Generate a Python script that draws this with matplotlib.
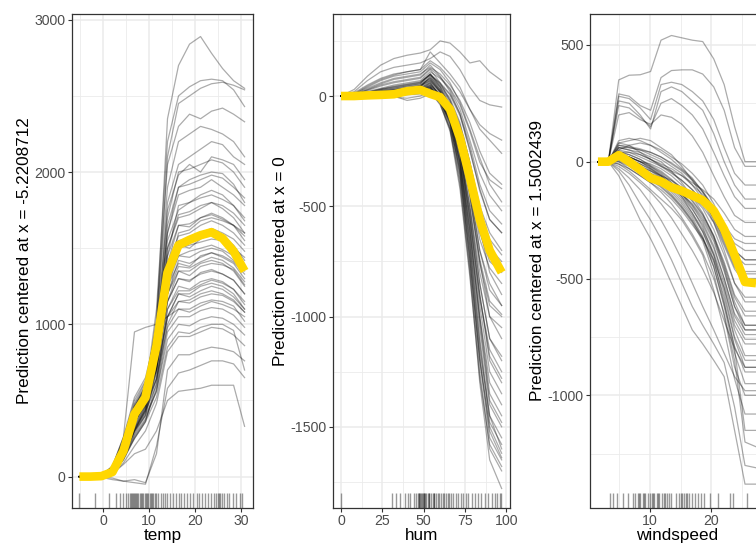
import matplotlib
matplotlib.use("Agg")
import matplotlib.pyplot as plt
import numpy as np

plt.rcParams['font.family'] = ['Liberation Sans', 'DejaVu Sans']
plt.rcParams['axes.unicode_minus'] = False

# ---- temp panel ----
temp_grid = [-5.2, -2.8, -0.4, 2.0, 4.4, 6.8, 9.2, 11.6, 14.0, 16.4, 18.8, 21.2, 23.6, 26.0, 28.4, 30.8]
temp_pdp = [0, 0, 3, 30, 170, 410, 520, 860, 1340, 1520, 1555, 1585, 1605, 1565, 1480, 1350]
temp_ice = [
    [0, 0, 5, 40, 160, 350, 500, 1000, 2350, 2700, 2840, 2890, 2780, 2680, 2600, 2550],
    [0, 0, 8, 50, 200, 420, 560, 1100, 2200, 2500, 2560, 2600, 2610, 2600, 2540, 2430],
    [0, 0, 3, 30, 140, 300, 450, 950, 2100, 2450, 2500, 2550, 2580, 2590, 2570, 2540],
    [0, 0, 6, 45, 180, 380, 520, 1050, 2050, 2300, 2380, 2350, 2400, 2420, 2380, 2330],
    [0, 0, 10, 60, 220, 450, 600, 1000, 1900, 2200, 2250, 2300, 2280, 2250, 2200, 2100],
    [0, 0, 4, 35, 170, 350, 500, 900, 1800, 2050, 2100, 2150, 2200, 2180, 2100, 2050],
    [0, 0, 7, 55, 210, 430, 580, 950, 1750, 1980, 2050, 2000, 2100, 2080, 2050, 1950],
    [0, 0, 2, 25, 130, 300, 420, 800, 1650, 1900, 1950, 1980, 2000, 1990, 1920, 1800],
    [0, 0, 9, 70, 260, 520, 650, 950, 1600, 1850, 1880, 1900, 1950, 1900, 1850, 1780],
    [0, 0, 5, 40, 180, 380, 520, 880, 1550, 1750, 1800, 1850, 1880, 1850, 1780, 1700],
    [0, 0, 3, 30, 150, 320, 460, 820, 1500, 1700, 1720, 1760, 1800, 1760, 1700, 1600],
    [0, 0, 6, 50, 200, 420, 560, 850, 1450, 1650, 1640, 1700, 1720, 1690, 1650, 1550],
    [0, 0, 4, 35, 160, 350, 480, 780, 1400, 1580, 1600, 1650, 1680, 1650, 1600, 1520],
    [0, 0, 8, 60, 230, 470, 600, 820, 1350, 1520, 1500, 1560, 1600, 1580, 1520, 1420],
    [0, 0, 2, 20, 120, 280, 400, 700, 1300, 1450, 1480, 1500, 1520, 1490, 1450, 1380],
    [0, 0, 5, 45, 190, 390, 520, 760, 1250, 1400, 1380, 1450, 1470, 1440, 1400, 1300],
    [0, 0, 3, 30, 140, 300, 430, 680, 1200, 1350, 1350, 1400, 1420, 1400, 1350, 1250],
    [0, 0, 7, 55, 220, 460, 580, 760, 1150, 1300, 1280, 1340, 1360, 1330, 1290, 1200],
    [0, 0, 4, 35, 150, 320, 440, 640, 1100, 1250, 1230, 1280, 1300, 1280, 1230, 1150],
    [0, 0, 6, 50, 200, 420, 530, 700, 1050, 1200, 1180, 1220, 1250, 1230, 1180, 1100],
    [0, 0, 2, 20, 110, 260, 370, 580, 1000, 1150, 1140, 1180, 1200, 1190, 1150, 1080],
    [0, 0, 5, 40, 170, 360, 470, 640, 980, 1100, 1100, 1140, 1160, 1150, 1120, 1020],
    [0, 0, 3, 25, 120, 270, 380, 560, 950, 1050, 1050, 1090, 1110, 1100, 1060, 980],
    [0, 0, 8, 65, 260, 950, 980, 1000, 1050, 1100, 1080, 1120, 1150, 1130, 1100, 1050],
    [0, 0, 4, 30, 140, 300, 400, 560, 900, 1000, 990, 1030, 1050, 1040, 1000, 930],
    [0, 0, 2, 15, 90, 200, 300, 480, 820, 920, 920, 950, 980, 970, 930, 860],
    [0, 0, -5, -20, -30, -20, -40, 150, 700, 800, 800, 830, 850, 840, 820, 760],
    [0, 0, 0, -10, -30, -40, -50, 200, 580, 680, 700, 730, 760, 760, 740, 650],
    [0, 0, 3, 20, 80, 150, 180, 300, 500, 560, 570, 580, 600, 600, 600, 330],
    [0, 0, 5, 40, 170, 360, 480, 700, 1250, 1500, 1520, 1540, 1560, 1550, 1500, 1440],
    [0, 0, 6, 50, 190, 400, 520, 760, 1300, 1600, 1620, 1680, 1700, 1680, 1650, 1600],
    [0, 0, 4, 35, 150, 330, 460, 720, 1150, 1350, 1320, 1380, 1400, 1390, 1360, 1260],
    [0, 0, 2, 25, 120, 250, 360, 520, 850, 950, 940, 980, 1000, 1000, 960, 700],
    [0, 0, 5, 45, 180, 380, 500, 740, 1450, 1780, 1800, 1830, 1850, 1820, 1780, 1680],
    [0, 0, 3, 30, 140, 310, 430, 600, 1050, 1200, 1200, 1250, 1270, 1250, 1200, 1100],
    [0, 0, 7, 60, 240, 480, 620, 900, 1700, 2000, 2020, 2050, 2080, 2060, 2000, 1900],
    [0, 0, 6, 50, 210, 440, 560, 800, 1350, 1550, 1560, 1600, 1630, 1600, 1560, 1480],
    [0, 0, 4, 40, 170, 370, 490, 760, 1250, 1450, 1440, 1480, 1500, 1480, 1420, 1350],
    [0, 0, 7, 60, 230, 460, 590, 840, 1400, 1650, 1660, 1700, 1730, 1700, 1650, 1580],
    [0, 0, 3, 30, 140, 310, 440, 700, 1150, 1300, 1290, 1330, 1350, 1330, 1290, 1200],
    [0, 0, 5, 45, 190, 400, 530, 780, 1200, 1380, 1370, 1410, 1440, 1420, 1370, 1280],
    [0, 0, 6, 55, 215, 440, 570, 830, 1500, 1720, 1740, 1780, 1800, 1780, 1730, 1650],
    [0, 0, 2, 22, 110, 250, 360, 620, 1100, 1220, 1220, 1260, 1290, 1270, 1230, 1130],
    [0, 0, 4, 38, 160, 340, 470, 720, 1200, 1420, 1400, 1440, 1470, 1450, 1410, 1330],
    [0, 0, 8, 65, 250, 500, 630, 900, 1600, 1900, 1920, 1950, 1980, 1960, 1900, 1830],
    [0, 0, 3, 28, 130, 290, 410, 650, 1050, 1150, 1160, 1200, 1220, 1200, 1160, 1080],
]
temp_rug = [-5.2, -1.8, 1.2, 2.8, 3.6, 4.3, 4.9, 5.4, 5.8, 6.0, 6.2, 6.5, 6.7, 6.9, 7.2, 7.4,
            7.6, 8.0, 8.3, 8.5, 8.7, 9.1, 9.3, 9.5, 9.8, 10.1, 10.4, 10.6, 10.8, 11.2, 11.6,
            12.0, 12.5, 13.0, 13.4, 13.9, 14.5, 15.1, 15.8, 16.4, 17.0, 17.7, 18.3, 18.9, 19.6,
            20.4, 20.9, 21.5, 22.1, 22.8, 23.5, 24.1, 24.6, 25.0, 25.2, 25.4, 25.8, 26.3, 26.9,
            27.5, 28.2, 29.0, 29.7, 30.3]

# ---- hum panel ----
hum_grid = [0, 8, 16, 24, 32, 40, 48, 54, 60, 66, 72, 78, 84, 90, 97.25]
hum_pdp = [0, 0, 3, 5, 8, 22, 28, 10, -5, -60, -190, -370, -560, -700, -800]
hum_ice = [
    [0, 30, 90, 140, 170, 185, 195, 210, 250, 240, 200, 150, 160, 110, 70],
    [0, 20, 70, 110, 130, 140, 150, 170, 200, 180, 120, 40, -20, -40, -50],
    [0, 15, 50, 80, 100, 110, 120, 200, 150, 100, 40, -60, -150, -200, -260],
    [0, 10, 40, 70, 90, 100, 110, 150, 120, 60, -30, -150, -280, -400, -480],
    [0, 5, 30, 55, 75, 85, 95, 140, 90, 20, -80, -250, -420, -560, -620],
    [0, 5, 25, 45, 60, 70, 80, 120, 60, -20, -150, -350, -600, -800, -900],
    [0, 3, 15, 30, 40, 50, 60, 100, 40, -50, -200, -450, -750, -1000, -1100],
    [0, 2, 10, 20, 30, 40, 50, 80, 20, -80, -250, -550, -900, -1200, -1300],
    [0, 0, 5, 10, 15, 25, 35, 60, 0, -100, -300, -650, -1050, -1400, -1500],
    [0, 0, 3, 5, 10, 20, 30, 40, -20, -120, -350, -750, -1200, -1550, -1650],
    [0, 0, 0, 0, 5, 10, 20, 30, -30, -150, -400, -800, -1300, -1650, -1780],
    [0, 0, 2, 5, 10, 15, 25, 50, 10, -60, -200, -420, -700, -850, -950],
    [0, 0, 5, 10, 20, 30, 40, 90, 30, -40, -180, -400, -650, -780, -850],
    [0, 2, 8, 15, 25, 35, 45, 70, 20, -70, -230, -500, -800, -1000, -1050],
    [0, 0, 2, 5, 8, 12, 18, 40, -10, -100, -280, -600, -1000, -1300, -1400],
    [0, 0, 0, 2, 5, 10, 15, 30, -20, -130, -330, -700, -1150, -1450, -1550],
    [0, 0, 0, 0, -5, -10, 0, 20, -40, -150, -380, -780, -1250, -1600, -1700],
    [0, 0, 3, 8, 12, 18, 25, 60, 0, -80, -250, -520, -850, -1100, -1200],
    [0, 5, 20, 35, 50, 60, 70, 110, 80, 30, -60, -200, -350, -450, -520],
    [0, 3, 12, 25, 35, 45, 55, 100, 50, -10, -120, -300, -500, -620, -700],
    [0, 8, 35, 60, 80, 90, 100, 130, 100, 50, -20, -120, -250, -350, -400],
    [0, 2, 10, 18, 25, 35, 45, 80, 30, -40, -170, -380, -620, -750, -800],
    [0, 0, 5, 10, 15, 22, 30, 55, 5, -90, -270, -580, -950, -1250, -1350],
    [0, 0, 0, 0, 0, -20, -10, 10, -30, -110, -300, -620, -1000, -1350, -1450],
    [0, 0, 2, 4, 6, 10, 15, 35, -10, -110, -310, -660, -1100, -1450, -1600],
    [0, 4, 18, 32, 45, 55, 65, 95, 60, 10, -80, -220, -400, -520, -580],
    [0, 0, 4, 8, 14, 20, 28, 45, -5, -95, -260, -560, -920, -1150, -1250],
    [0, 1, 6, 12, 18, 25, 32, 65, 15, -60, -210, -460, -760, -950, -1000],
    [0, 0, 1, 3, 5, 8, 12, 25, -25, -140, -360, -740, -1200, -1500, -1620],
    [0, 10, 45, 75, 95, 110, 120, 160, 130, 80, 20, -60, -130, -170, -200],
    [0, 6, 28, 50, 65, 75, 85, 125, 85, 35, -40, -160, -300, -380, -420],
    [0, 0, 3, 6, 10, 16, 22, 40, -15, -105, -290, -610, -1020, -1380, -1480],
    [0, 2, 12, 22, 30, 38, 48, 85, 40, -30, -140, -330, -560, -690, -750],
    [0, 0, 0, 2, 4, 6, 10, 20, -35, -160, -420, -820, -1280, -1580, -1680],
    [0, 2, 10, 20, 28, 36, 44, 75, 25, -50, -190, -420, -700, -880, -950],
    [0, 0, 4, 9, 14, 20, 27, 50, 0, -85, -240, -500, -850, -1100, -1180],
    [0, 3, 14, 26, 36, 46, 56, 95, 45, -20, -130, -300, -520, -650, -720],
    [0, 0, 2, 4, 8, 12, 18, 35, -15, -115, -320, -680, -1120, -1480, -1580],
    [0, 1, 7, 14, 20, 28, 36, 70, 20, -55, -200, -440, -740, -930, -990],
    [0, 0, 3, 7, 12, 18, 24, 45, -5, -90, -255, -540, -900, -1180, -1280],
    [0, 4, 16, 30, 42, 52, 62, 100, 55, 5, -90, -240, -430, -560, -620],
    [0, 0, 1, 3, 6, 10, 14, 28, -20, -125, -340, -720, -1180, -1520, -1640],
]
hum_rug = [0.0, 31.0, 33.5, 36.0, 38.5, 40.5, 42.0, 44.0, 45.5, 46.5, 47.0, 47.5, 48.0, 48.5,
           49.0, 49.5, 50.0, 50.5, 51.0, 51.5, 52.5, 53.0, 53.5, 54.5, 55.5, 56.0, 56.5, 57.5,
           58.5, 59.5, 60.5, 61.5, 62.5, 63.5, 64.5, 65.5, 66.5, 68.0, 69.5, 71.0, 72.5, 74.0,
           75.5, 77.0, 79.0, 81.0, 83.0, 85.0, 87.0, 89.0, 91.5, 93.0, 94.5, 96.0, 97.0]

# ---- windspeed panel ----
wind_grid = [1.5, 3.2, 4.9, 6.6, 8.4, 10.1, 11.8, 13.5, 15.2, 16.9, 18.6, 20.4, 22.1, 23.8, 25.5, 27.3]
wind_pdp = [0, 0, 28, 0, -35, -70, -85, -110, -125, -145, -165, -210, -290, -400, -515, -520]
wind_ice = [
    [0, 0, 350, 370, 372, 386, 520, 540, 530, 520, 514, 440, 330, 150, 0, 0],
    [0, 0, 290, 280, 240, 220, 360, 390, 393, 393, 375, 320, 220, 60, -20, -20],
    [0, 0, 280, 270, 230, 180, 330, 340, 330, 300, 260, 180, 60, -50, -100, -100],
    [0, 0, 260, 250, 200, 140, 300, 320, 300, 260, 220, 120, 0, -100, -160, -160],
    [0, 0, 240, 230, 190, 150, 250, 270, 240, 200, 140, 40, -60, -150, -200, -200],
    [0, 0, 200, 210, 180, 160, 200, 190, 160, 110, 40, -60, -150, -230, -260, -260],
    [0, 0, 80, 90, 100, 90, 60, 30, -20, -80, -150, -250, -350, -450, -500, -500],
    [0, 0, 60, 50, 40, 20, 0, -40, -90, -150, -220, -320, -450, -600, -700, -700],
    [0, 0, 40, 30, 10, -20, -50, -90, -140, -200, -280, -400, -560, -750, -850, -850],
    [0, 0, 20, 0, -30, -60, -90, -130, -180, -240, -320, -450, -620, -820, -950, -950],
    [0, 0, 0, -20, -50, -80, -110, -150, -200, -260, -340, -480, -660, -880, -1000, -1000],
    [0, 0, -10, -40, -80, -120, -160, -200, -250, -320, -400, -550, -720, -930, -1080, -1080],
    [0, 0, 50, 70, 80, 70, 50, 20, -10, -50, -100, -180, -280, -380, -420, -420],
    [0, 0, 30, 20, 0, -10, -30, -60, -100, -150, -200, -290, -400, -520, -600, -600],
    [0, 0, 10, -10, -40, -50, -70, -100, -140, -180, -240, -330, -460, -620, -720, -720],
    [0, 0, 70, 60, 50, 30, 10, -20, -50, -100, -160, -240, -340, -440, -480, -480],
    [0, 0, -20, -50, -90, -130, -180, -240, -310, -380, -460, -560, -680, -800, -880, -880],
    [0, 0, 90, 100, 90, 70, 40, 10, -30, -70, -130, -200, -300, -400, -440, -440],
    [0, 0, 40, 40, 20, 0, -20, -50, -80, -120, -170, -260, -380, -520, -580, -580],
    [0, 0, -30, -70, -120, -180, -250, -330, -420, -520, -620, -720, -820, -920, -980, -980],
    [0, 0, -60, -150, -250, -330, -420, -520, -620, -720, -780, -850, -920, -1150, -1380, -1380],
    [0, 0, -40, -100, -180, -250, -330, -420, -520, -620, -700, -780, -860, -1050, -1300, -1310],
    [0, 0, 20, 10, -10, -30, -60, -100, -150, -220, -300, -420, -600, -800, -1150, -1150],
    [0, 0, 60, 60, 50, 40, 20, -10, -40, -80, -130, -200, -280, -350, -380, -380],
    [0, 0, 30, 10, -20, -40, -60, -80, -110, -150, -190, -260, -360, -460, -520, -520],
    [0, 0, 0, -30, -60, -90, -120, -160, -210, -270, -330, -420, -540, -700, -780, -780],
    [0, 0, 80, 70, 40, 10, -20, -40, -60, -90, -120, -160, -220, -290, -320, -320],
    [0, 0, 10, 0, -20, -40, -70, -110, -160, -220, -290, -390, -520, -680, -760, -760],
    [0, 0, -10, -30, -60, -90, -130, -180, -240, -310, -390, -500, -650, -850, -1200, -1220],
    [0, 0, 40, 20, 0, -30, -60, -100, -140, -190, -260, -360, -500, -650, -720, -720],
    [0, 0, 50, 40, 30, 10, -10, -30, -60, -100, -140, -200, -270, -330, -350, -350],
    [0, 0, 20, 0, -20, -50, -80, -120, -170, -230, -300, -400, -540, -720, -830, -830],
    [0, 0, 30, 20, 0, -20, -45, -80, -120, -170, -230, -320, -440, -580, -660, -660],
    [0, 0, 15, -5, -30, -60, -95, -140, -190, -250, -330, -450, -610, -790, -900, -900],
    [0, 0, 60, 50, 30, 10, -15, -45, -80, -120, -170, -240, -330, -430, -470, -470],
    [0, 0, 45, 30, 10, -15, -40, -75, -115, -165, -225, -315, -430, -570, -640, -640],
    [0, 0, 5, -15, -45, -75, -105, -145, -195, -255, -325, -430, -580, -760, -880, -880],
    [0, 0, 25, 10, -10, -35, -65, -105, -150, -205, -270, -370, -500, -660, -740, -740],
    [0, 0, 70, 65, 55, 40, 20, -5, -35, -75, -125, -195, -285, -380, -420, -420],
    [0, 0, 35, 20, 0, -25, -55, -90, -135, -185, -250, -340, -470, -620, -700, -700],
]
wind_rug = [3.5, 4.0, 4.6, 5.6, 6.4, 7.2, 7.6, 8.0, 8.2, 8.4, 8.8, 9.0, 9.2, 9.6, 10.0, 10.3,
            10.5, 10.7, 11.1, 11.3, 11.5, 11.9, 12.3, 12.5, 12.7, 13.1, 13.5, 14.3, 14.8, 15.0,
            15.2, 15.6, 15.8, 16.0, 16.4, 16.9, 17.3, 17.8, 18.3, 18.8, 19.8, 21.1, 23.1, 23.6,
            25.8]

panels = [
    dict(grid=temp_grid, pdp=temp_pdp, ice=temp_ice, rug=temp_rug, xlabel='temp',
         ylabel='Prediction centered at x = -5.2208712', rect=[72.3, 181],
         xlim=(-6.75, 32.7), ylim=(-203, 3038),
         xmaj=[0, 10, 20, 30], xmin=[-5, 5, 15, 25],
         ymaj=[0, 1000, 2000, 3000], ymin=[500, 1500, 2500]),
    dict(grid=hum_grid, pdp=hum_pdp, ice=hum_ice, rug=hum_rug, xlabel='hum',
         ylabel='Prediction centered at x = 0', rect=[333.3, 176.7],
         xlim=(-4.66, 102.3), ylim=(-1866, 372),
         xmaj=[0, 25, 50, 75, 100], xmin=[12.5, 37.5, 62.5, 87.5],
         ymaj=[-1500, -1000, -500, 0], ymin=[-1750, -1250, -750, -250, 250]),
    dict(grid=wind_grid, pdp=wind_pdp, ice=wind_ice, rug=wind_rug, xlabel='windspeed',
         ylabel='Prediction centered at x = 1.5002439', rect=[590, 174],
         xlim=(0.21, 28.6), ylim=(-1480, 632),
         xmaj=[10, 20], xmin=[5, 15, 25],
         ymaj=[-1000, -500, 0, 500], ymin=[-1250, -750, -250, 250]),
]

W, H = 756, 545
fig = plt.figure(figsize=(W / 100, H / 100), dpi=100)

for p in panels:
    left, width = p['rect']
    ax = fig.add_axes([left / W, (H - 507.5) / H, width / W, 493.5 / H])
    ax.set_xlim(p['xlim'])
    ax.set_ylim(p['ylim'])
    ax.set_xticks(p['xmaj'])
    ax.set_xticks(p['xmin'], minor=True)
    ax.set_yticks(p['ymaj'])
    ax.set_yticks(p['ymin'], minor=True)
    ax.grid(which='major', color='#EBEBEB', linewidth=1.1, zorder=0)
    ax.grid(which='minor', color='#EBEBEB', linewidth=0.6, zorder=0)
    ax.set_axisbelow(True)
    ax.tick_params(which='major', length=2.75, width=0.8, color='#333333',
                   labelsize=10.2, labelcolor='#4D4D4D', pad=2)
    ax.tick_params(which='minor', length=0)
    for s in ax.spines.values():
        s.set_color('#333333')
        s.set_linewidth(0.9)

    for line in p['ice']:
        ax.plot(p['grid'], line, color='black', alpha=0.33, linewidth=0.9)
    ax.plot(p['grid'], p['pdp'], color='#FFD700', linewidth=6.2,
            solid_capstyle='butt', solid_joinstyle='round')
    ax.vlines(p['rug'], 0, 0.03, transform=ax.get_xaxis_transform(),
              color='black', alpha=0.4, linewidth=1.0)

    ax.set_xlabel(p['xlabel'], fontsize=12.3, color='black', labelpad=0)
    ax.set_ylabel(p['ylabel'], fontsize=12.3, color='black', labelpad=2)

fig.savefig('out.png', dpi=100)
